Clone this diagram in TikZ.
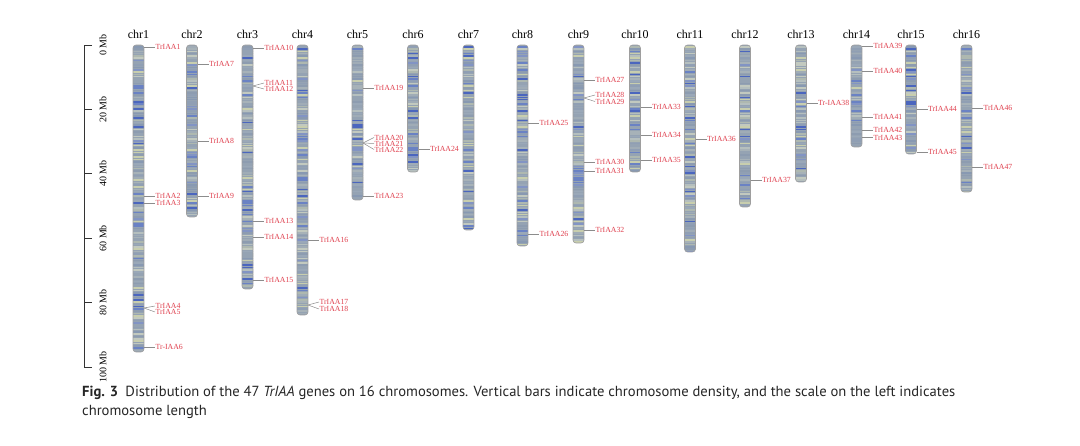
\documentclass[tikz,border=0pt]{standalone}
\usepackage{fontspec}
\setmainfont{Liberation Serif}
\newfontfamily\capfont{PT Sans}
\definecolor{bbase}{HTML}{95A3B3}
\definecolor{band1}{HTML}{95A3B3}
\definecolor{band2}{HTML}{8D9CB0}
\definecolor{band3}{HTML}{A0ACB6}
\definecolor{band4}{HTML}{8899B2}
\definecolor{band5}{HTML}{9AA8B8}
\definecolor{band6}{HTML}{B5BFBE}
\definecolor{band7}{HTML}{C2C9BF}
\definecolor{band8}{HTML}{C8CEAE}
\definecolor{band9}{HTML}{AEB8B0}
\definecolor{band10}{HTML}{8294C4}
\definecolor{band11}{HTML}{6A82C4}
\definecolor{band12}{HTML}{4B66BE}
\definecolor{band13}{HTML}{909FB4}
\definecolor{band14}{HTML}{A7B2B8}
\definecolor{genered}{HTML}{E0414F}
\tikzset{
  chrout/.style={draw=black!38, rounded corners=3pt, minimum width=11pt, inner sep=0pt, outer sep=0pt, line width=0.6pt},
  chrlab/.style={font=\fontsize{12}{12}\selectfont, inner sep=0pt},
  gtxt/.style={font=\fontsize{7.8}{7.8}\selectfont, text=genered, inner sep=0.4pt},
  gl/.style={draw=black!45, line width=0.5pt},
  scl/.style={draw=black!80, line width=0.8pt},
  scltxt/.style={font=\fontsize{10}{10}\selectfont, rotate=90, inner sep=0pt},
}
\newcommand\chrom[5]{%
  \pgfmathsetseed{#5}%
  \begin{scope}
    \clip[rounded corners=3pt] (#2-5.5,45) rectangle (#2+5.5,#3);
    \fill[bbase] (#2-5.5,45) rectangle (#2+5.5,#3);
    \foreach \k in {46,48.3,...,#3} {
      \pgfmathrandominteger{\c}{1}{14}
      \fill[fill=band\c] (#2-6,\k) rectangle (#2+6,\k+1.6);
    }
  \end{scope}
  \node[chrout, minimum height={#3-45}, anchor=north] (#1) at (#2,45) {};
  \node[chrlab] (#1l) at (#2,34) {#4};
}
\newcommand\gene[6]{%
  \node[gtxt, anchor=west] (#6) at (#2+11,#4) {#5};
  \draw[gl] (#1.east |- 0,#3) -- (#6.west);
}
\begin{document}
\begin{tikzpicture}[x=1pt,y=-1pt]
\useasboundingbox[fill=white] (0,0) rectangle (1080,446);
% scale
\draw[scl] (92,45) -- (84,45) -- (84,367) -- (92,367);
\foreach \m/\t in {0/0 Mb,20/20 Mb,40/40 Mb,60/60 Mb,80/80 Mb,100/100 Mb} {
  \draw[scl] (84,45+3.22*\m) -- (92,45+3.22*\m);
  \node[scltxt] (s\m) at (103,45+3.22*\m) {\t};
}
% chromosomes
\chrom{c1}{138.5}{352}{chr1}{11}
\chrom{c2}{192}{217}{chr2}{12}
\chrom{c3}{247.5}{289}{chr3}{13}
\chrom{c4}{302.5}{315}{chr4}{14}
\chrom{c5}{357.5}{200}{chr5}{15}
\chrom{c6}{413}{172}{chr6}{16}
\chrom{c7}{468.5}{230}{chr7}{17}
\chrom{c8}{522.5}{246}{chr8}{18}
\chrom{c9}{578.5}{243}{chr9}{19}
\chrom{c10}{635}{172}{chr10}{20}
\chrom{c11}{690}{252}{chr11}{21}
\chrom{c12}{745}{207}{chr12}{22}
\chrom{c13}{801}{182}{chr13}{23}
\chrom{c14}{856.5}{147}{chr14}{24}
\chrom{c15}{911}{154}{chr15}{25}
\chrom{c16}{966.5}{192}{chr16}{26}
% genes
\gene{c1}{144}{47}{47}{TrIAA1}{g1}
\gene{c1}{144}{196}{196}{TrIAA2}{g2}
\gene{c1}{144}{203}{203}{TrIAA3}{g3}
\gene{c1}{144}{308}{306}{TrIAA4}{g4}
\gene{c1}{144}{308}{312}{TrIAA5}{g5}
\gene{c1}{144}{347}{347}{Tr-IAA6}{g6}
\gene{c2}{197.5}{64}{64}{TrIAA7}{g7}
\gene{c2}{197.5}{141}{141}{TrIAA8}{g8}
\gene{c2}{197.5}{196}{196}{TrIAA9}{g9}
\gene{c3}{253}{48}{48}{TrIAA10}{g10}
\gene{c3}{253}{86}{83}{TrIAA11}{g11}
\gene{c3}{253}{86}{89}{TrIAA12}{g12}
\gene{c3}{253}{221}{221}{TrIAA13}{g13}
\gene{c3}{253}{237}{237}{TrIAA14}{g14}
\gene{c3}{253}{280}{280}{TrIAA15}{g15}
\gene{c4}{308}{240}{240}{TrIAA16}{g16}
\gene{c4}{308}{305}{302}{TrIAA17}{g17}
\gene{c4}{308}{305}{309}{TrIAA18}{g18}
\gene{c5}{363}{88}{88}{TrIAA19}{g19}
\gene{c5}{363}{143}{137.5}{TrIAA20}{g20}
\gene{c5}{363}{143}{143.5}{TrIAA21}{g21}
\gene{c5}{363}{143}{149.5}{TrIAA22}{g22}
\gene{c5}{363}{196}{196}{TrIAA23}{g23}
\gene{c6}{418.5}{149}{149}{TrIAA24}{g24}
\gene{c8}{528}{123}{123}{TrIAA25}{g25}
\gene{c8}{528}{234}{234}{TrIAA26}{g26}
\gene{c9}{584}{80}{80}{TrIAA27}{g27}
\gene{c9}{584}{98}{95}{TrIAA28}{g28}
\gene{c9}{584}{98}{101.5}{TrIAA29}{g29}
\gene{c9}{584}{162}{162}{TrIAA30}{g30}
\gene{c9}{584}{171}{171}{TrIAA31}{g31}
\gene{c9}{584}{230}{230}{TrIAA32}{g32}
\gene{c10}{640.5}{107}{107}{TrIAA33}{g33}
\gene{c10}{640.5}{135}{135}{TrIAA34}{g34}
\gene{c10}{640.5}{160}{160}{TrIAA35}{g35}
\gene{c11}{695.5}{139}{139}{TrIAA36}{g36}
\gene{c12}{750.5}{180}{180}{TrIAA37}{g37}
\gene{c13}{806.5}{103}{103}{Tr-IAA38}{g38}
\gene{c14}{862}{46}{46}{TrIAA39}{g39}
\gene{c14}{862}{71}{71}{TrIAA40}{g40}
\gene{c14}{862}{117}{117}{TrIAA41}{g41}
\gene{c14}{862}{130}{130}{TrIAA42}{g42}
\gene{c14}{862}{137.5}{137.5}{TrIAA43}{g43}
\gene{c15}{916.5}{109}{109}{TrIAA44}{g44}
\gene{c15}{916.5}{152}{152}{TrIAA45}{g45}
\gene{c16}{972}{108}{108}{TrIAA46}{g46}
\gene{c16}{972}{167}{167}{TrIAA47}{g47}
% caption
\node[anchor=west, inner sep=0pt, font=\capfont\fontsize{14.6}{14.6}\selectfont, text=black!85] (cap1) at (82,393)
  {\textbf{Fig. 3}\hspace{0.5em}Distribution of the 47 \textit{TrIAA} genes on 16 chromosomes. Vertical bars indicate chromosome density, and the scale on the left indicates};
\node[anchor=west, inner sep=0pt, font=\capfont\fontsize{14.6}{14.6}\selectfont, text=black!85] (cap2) at (82,412)
  {chromosome length};
\end{tikzpicture}
\end{document}
